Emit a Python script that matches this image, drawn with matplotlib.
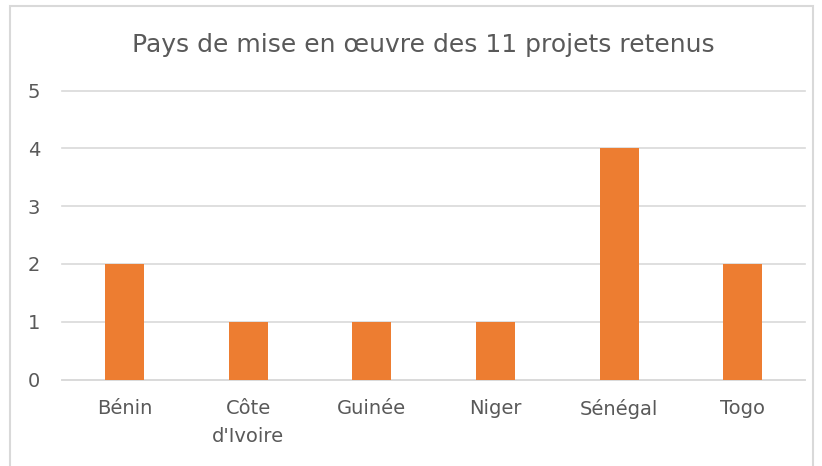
import matplotlib
matplotlib.use("Agg")
import matplotlib.pyplot as plt
from matplotlib.patches import Rectangle

# ── Données ───────────────────────────────────────────────────────────────
pays = ["Bénin", "Côte\nd'Ivoire", "Guinée", "Niger", "Sénégal", "Togo"]
nb_projets = [2, 1, 1, 1, 4, 2]
titre = "Pays de mise en œuvre des 11 projets retenus"

TEXT = "#595959"
GRID = "#d9d9d9"
ORANGE = "#ed7d31"

plt.rcParams["font.family"] = ["DejaVu Sans"]

fig = plt.figure(figsize=(8.22, 4.66), dpi=100)
ax = fig.add_axes([0.076, 0.1856, 0.903, 0.6198])

x = range(len(pays))
ax.bar(x, nb_projets, width=0.315, color=ORANGE, zorder=3)

ax.set_xlim(-0.5, len(pays) - 0.5)
ax.set_ylim(0, 5)
ax.set_yticks(range(0, 6))
ax.set_xticks(list(x))
ax.set_xticklabels(pays, fontsize=14, color=TEXT, linespacing=1.6)
ax.tick_params(axis="y", labelsize=14, labelcolor=TEXT, length=0, pad=16)
ax.tick_params(axis="x", length=0, pad=14)

ax.grid(axis="y", color=GRID, linewidth=1.2, zorder=0)
for gl in ax.get_ygridlines():
    gl.set_clip_on(False)
for s in ["top", "right", "left"]:
    ax.spines[s].set_visible(False)
ax.spines["bottom"].set_color(GRID)
ax.spines["bottom"].set_linewidth(1.2)

fig.text(423 / 822, 1 - 45 / 466, titre, ha="center", va="center",
         fontsize=18, color=TEXT)

# cadre du graphique
fig.patches.append(Rectangle((10 / 822, -0.01), 803 / 822, 1 - 6 / 466 + 0.01,
                             transform=fig.transFigure, fill=False,
                             edgecolor=GRID, linewidth=1.5))

fig.savefig("out.png", dpi=100)
